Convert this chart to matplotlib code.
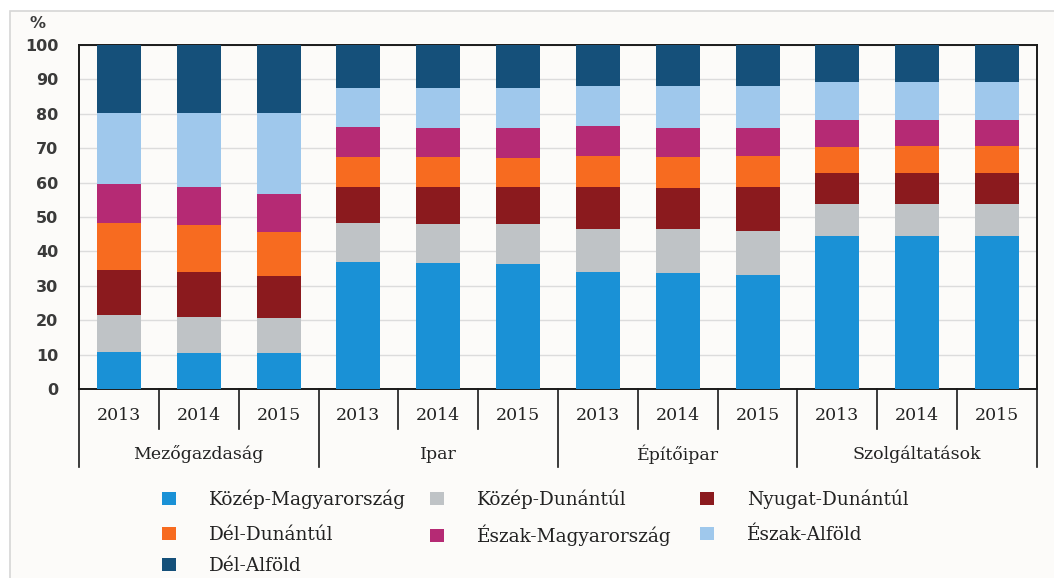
import matplotlib
matplotlib.use("Agg")
import matplotlib.pyplot as plt
import matplotlib.transforms as mtransforms
from matplotlib.patches import Rectangle
import numpy as np

sectors = ["Mezőgazdaság", "Ipar", "Építőipar", "Szolgáltatások"]
years = ["2013", "2014", "2015"]

regions = ["Közép-Magyarország", "Közép-Dunántúl", "Nyugat-Dunántúl",
           "Dél-Dunántúl", "Észak-Magyarország", "Észak-Alföld", "Dél-Alföld"]

kozep_magyarorszag = [10.9, 10.4, 10.4, 36.8, 36.7, 36.3, 34.0, 33.6, 33.1, 44.4, 44.4, 44.4]
kozep_dunantul     = [10.7, 10.6, 10.1, 11.4, 11.3, 11.7, 12.6, 12.8, 12.9, 9.4, 9.4, 9.4]
nyugat_dunantul    = [13.0, 12.9, 12.3, 10.6, 10.8, 10.6, 12.0, 11.9, 12.6, 8.9, 9.1, 9.1]
del_dunantul       = [13.8, 13.7, 12.8, 8.5, 8.5, 8.6, 9.1, 9.1, 9.1, 7.6, 7.6, 7.8]
eszak_magyarorszag = [11.2, 11.0, 11.1, 9.0, 8.7, 8.8, 8.8, 8.6, 8.3, 8.0, 7.8, 7.6]
eszak_alfold       = [20.5, 21.5, 23.4, 11.1, 11.4, 11.4, 11.7, 12.2, 12.0, 10.8, 10.8, 10.8]
del_alfold         = [19.9, 19.9, 19.9, 12.6, 12.6, 12.6, 11.8, 11.8, 12.0, 10.9, 10.9, 10.9]

series = [kozep_magyarorszag, kozep_dunantul, nyugat_dunantul, del_dunantul,
          eszak_magyarorszag, eszak_alfold, del_alfold]
colors = ["#1a91d6", "#bfc3c6", "#8b1a1e", "#f76b20", "#b52a74", "#9fc8ec", "#15507a"]

serif = ["DejaVu Serif"]
txtcol = "#222222"

fig = plt.figure(figsize=(10.54, 5.78), dpi=100)
fig.patch.set_facecolor("white")
bg = Rectangle((10 / 1054, -0.01), 1.1, (578 - 11) / 578 + 0.01,
               transform=fig.transFigure, facecolor="#fcfbf9",
               edgecolor="#d6d6d6", linewidth=1.2, zorder=-10)
fig.add_artist(bg)

ax = fig.add_axes([79 / 1054, (578 - 389) / 578, (1037 - 79) / 1054, (389 - 45) / 578])
ax.set_facecolor("#fcfbf9")
ax.set_zorder(1)

n = len(sectors) * len(years)
x = np.arange(n)
bottom = np.zeros(n)
handles = []
for vals, col, lab in zip(series, colors, regions):
    b = ax.bar(x, vals, bottom=bottom, width=0.55, color=col, label=lab, zorder=3)
    handles.append(b)
    bottom += np.array(vals)

ax.set_xlim(-0.5, n - 0.5)
ax.set_ylim(0, 100)
ax.set_yticks(np.arange(0, 101, 10))
ax.yaxis.grid(True, color="#dcdcdc", linewidth=1.0, zorder=0)
ax.set_axisbelow(True)
ax.tick_params(axis="y", length=0, pad=15, labelsize=11.5, labelcolor="#3a3a3a")
for t in ax.get_yticklabels():
    t.set_fontweight("bold")
ax.set_xticks([])
for s in ax.spines.values():
    s.set_color("#1a1a1a")
    s.set_linewidth(1.4)

trans = mtransforms.blended_transform_factory(ax.transData, ax.transAxes)
# separators
for i in range(n + 1):
    xb = i - 0.5
    long = (i % 3 == 0)
    ybot = -0.227 if long else -0.116
    ax.plot([xb, xb], [0, ybot], transform=trans, color="#1a1a1a",
            linewidth=1.2, clip_on=False, zorder=5)
# year labels
for i in range(n):
    ax.text(i, -0.0756, years[i % 3], transform=trans, ha="center", va="center",
            fontsize=12.5, family=serif, color=txtcol)
# sector labels
for j, s in enumerate(sectors):
    ax.text(3 * j + 1, -0.189, s, transform=trans, ha="center", va="center",
            fontsize=12.5, family=serif, color=txtcol)

ax.text(38 / 1054, (578 - 24) / 578, "%", transform=fig.transFigure, ha="center",
        va="center", fontsize=11.5, fontweight="bold", color="#3a3a3a")

# legend: one entry per slot, 3 columns x 3 rows (row-major order)
col_x = [162, 430, 700]
row_y = [499, 535, 566]
for k, (h, lab) in enumerate(zip(handles, regions)):
    r, c = divmod(k, 3)
    lg = fig.legend([h], [lab], loc="center left",
                    bbox_to_anchor=(col_x[c] / 1054, (578 - row_y[r]) / 578),
                    frameon=False, prop={"family": serif, "size": 13.3},
                    handlelength=0.78, handleheight=0.67, handletextpad=1.75,
                    borderaxespad=0, borderpad=0)
    for t in lg.get_texts():
        t.set_color(txtcol)

fig.savefig("out.png", dpi=100, facecolor=fig.get_facecolor())
